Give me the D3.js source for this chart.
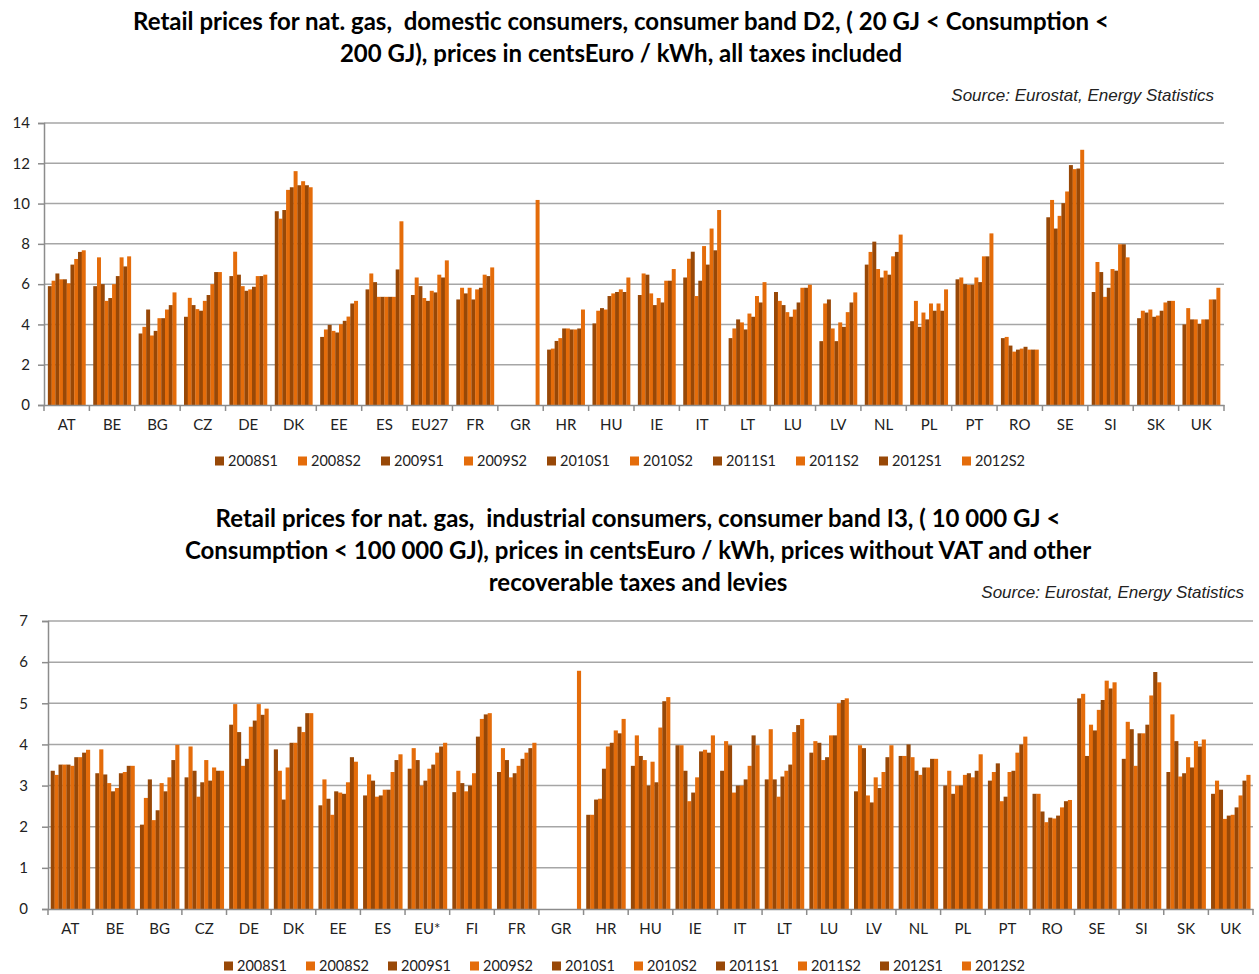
<!DOCTYPE html>
<html lang="en">
<head>
<meta charset="UTF-8">
<title>Retail prices for natural gas</title>
<style>
    body { margin: 0; background: #fff; }
    svg { display: block; }
    .title { font-family: Lato, "Open Sans", sans-serif; font-weight: bold; font-size: 24px; fill: #000; white-space: pre; }
    .source { font-family: "Liberation Sans", Arial, sans-serif; font-style: italic; font-size: 17px; fill: #222; }
    .tick-label { font-family: Lato, sans-serif; font-size: 15px; fill: #222; }
    .legend-label { font-family: Lato, sans-serif; font-size: 14.5px; fill: #222; }
</style>
</head>
<body>
<svg id="chart" width="1259" height="974"></svg>

<script src="https://d3js.org/d3.v7.min.js"></script>
<script>
    // half-year periods (one bar per period in every country group)
    const periods = ["2008S1", "2008S2", "2009S1", "2009S2", "2010S1",
                     "2010S2", "2011S1", "2011S2", "2012S1", "2012S2"];

    // domestic consumers, band D2 (centsEuro / kWh)
    const domesticCountries = ["AT", "BE", "BG", "CZ", "DE", "DK", "EE", "ES", "EU27", "FR", "GR", "HR", "HU",
                               "IE", "IT", "LT", "LU", "LV", "NL", "PL", "PT", "RO", "SE", "SI", "SK", "UK"];
    const domesticPrices = [
        [5.90, 6.17, 6.53, 6.24, 6.24, 6.04, 6.97, 7.25, 7.60, 7.68],
        [5.90, 7.33, 6.00, 5.17, 5.31, 6.00, 6.40, 7.33, 6.88, 7.38],
        [3.55, 3.88, 4.74, 3.45, 3.68, 4.31, 4.31, 4.74, 4.96, 5.59],
        [4.38, 5.32, 4.96, 4.76, 4.68, 5.17, 5.46, 6.00, 6.60, 6.60],
        [6.40, 7.61, 6.47, 5.90, 5.67, 5.74, 5.87, 6.40, 6.40, 6.47],
        [9.62, 9.25, 9.68, 10.68, 10.81, 11.61, 10.91, 11.11, 10.91, 10.81],
        [3.38, 3.75, 3.98, 3.68, 3.60, 4.01, 4.18, 4.39, 5.04, 5.17],
        [5.74, 6.53, 6.10, 5.37, 5.37, 5.37, 5.37, 5.37, 6.73, 9.12],
        [5.46, 6.33, 5.90, 5.31, 5.17, 5.67, 5.59, 6.47, 6.33, 7.18],
        [5.24, 5.82, 5.54, 5.82, 5.24, 5.74, 5.82, 6.47, 6.40, 6.83],
        [null, null, null, null, null, null, null, null, null, 10.18],
        [2.75, 2.80, 3.18, 3.32, 3.80, 3.80, 3.75, 3.75, 3.80, 4.74],
        [4.05, 4.68, 4.81, 4.74, 5.41, 5.54, 5.61, 5.74, 5.61, 6.33],
        [5.46, 6.53, 6.47, 5.54, 4.96, 5.31, 5.09, 6.17, 6.17, 6.75],
        [6.33, 7.26, 7.61, 5.41, 6.17, 7.89, 6.97, 8.76, 7.68, 9.68],
        [3.32, 3.80, 4.25, 4.10, 3.75, 4.54, 4.38, 5.41, 5.09, 6.10],
        [5.61, 5.17, 4.96, 4.61, 4.38, 4.74, 5.09, 5.82, 5.82, 5.97],
        [3.17, 5.04, 5.24, 3.80, 3.17, 4.10, 3.88, 4.61, 5.09, 5.59],
        [6.97, 7.60, 8.11, 6.75, 6.33, 6.67, 6.47, 7.38, 7.60, 8.46],
        [4.16, 5.17, 3.88, 4.59, 4.25, 5.04, 4.68, 5.04, 4.68, 5.74],
        [6.24, 6.33, 6.00, 5.97, 5.97, 6.33, 6.10, 7.38, 7.38, 8.52],
        [3.32, 3.38, 2.95, 2.65, 2.75, 2.80, 2.89, 2.75, 2.75, 2.75],
        [9.32, 10.18, 8.76, 9.39, 10.02, 10.60, 11.91, 11.71, 11.74, 12.67],
        [5.61, 7.10, 6.60, 5.37, 5.82, 6.75, 6.67, 7.98, 7.98, 7.33],
        [4.31, 4.68, 4.59, 4.74, 4.38, 4.44, 4.68, 5.09, 5.17, 5.17],
        [4.00, 4.81, 4.25, 4.25, 4.03, 4.25, 4.25, 5.24, 5.24, 5.82]
    ];
    const domesticTicks = [0, 2, 4, 6, 8, 10, 12, 14];

    // industrial consumers, band I3 (centsEuro / kWh)
    const industrialCountries = ["AT", "BE", "BG", "CZ", "DE", "DK", "EE", "ES", "EU*", "FI", "FR", "GR", "HR", "HU",
                                 "IE", "IT", "LT", "LU", "LV", "NL", "PL", "PT", "RO", "SE", "SI", "SK", "UK"];
    const industrialPrices = [
        [3.36, 3.26, 3.51, 3.51, 3.51, 3.48, 3.69, 3.69, 3.80, 3.87],
        [3.30, 3.88, 3.27, 3.06, 2.86, 2.94, 3.30, 3.33, 3.48, 3.48],
        [2.05, 2.70, 3.15, 2.16, 2.40, 3.06, 2.86, 3.20, 3.62, 3.99],
        [3.20, 3.95, 3.36, 2.73, 3.08, 3.62, 3.12, 3.44, 3.36, 3.36],
        [4.48, 4.98, 4.30, 3.48, 3.65, 4.43, 4.58, 4.98, 4.72, 4.87],
        [3.88, 3.36, 2.66, 3.44, 4.04, 4.04, 4.43, 4.30, 4.76, 4.76],
        [2.52, 3.15, 2.68, 2.29, 2.86, 2.83, 2.80, 3.08, 3.69, 3.58],
        [2.76, 3.27, 3.12, 2.73, 2.76, 2.90, 2.90, 3.33, 3.62, 3.76],
        [3.41, 3.91, 3.62, 3.00, 3.12, 3.41, 3.51, 3.80, 3.95, 4.04],
        [2.84, 3.36, 3.06, 2.86, 3.00, 3.30, 4.19, 4.62, 4.73, 4.76],
        [3.33, 3.91, 3.62, 3.20, 3.30, 3.48, 3.65, 3.80, 3.91, 4.04],
        [null, null, null, null, null, null, null, null, null, 5.79],
        [2.29, 2.29, 2.66, 2.68, 3.41, 3.95, 4.04, 4.34, 4.27, 4.62],
        [3.48, 4.22, 3.72, 3.62, 3.00, 3.58, 3.08, 4.41, 5.05, 5.15],
        [3.98, 3.98, 3.36, 2.62, 2.83, 3.20, 3.83, 3.87, 3.80, 4.22],
        [3.36, 4.08, 3.98, 2.83, 3.00, 3.00, 3.15, 3.48, 4.22, 3.98],
        [3.15, 4.37, 3.15, 2.73, 3.22, 3.36, 3.51, 4.30, 4.47, 4.62],
        [3.80, 4.08, 4.04, 3.62, 3.69, 4.22, 4.22, 5.00, 5.08, 5.12],
        [2.86, 3.98, 3.91, 2.76, 2.59, 3.20, 2.94, 3.33, 3.69, 3.98],
        [3.72, 3.72, 4.00, 3.69, 3.36, 3.26, 3.44, 3.44, 3.65, 3.65],
        [3.00, 3.36, 2.80, 3.00, 3.00, 3.26, 3.30, 3.20, 3.36, 3.76],
        [3.12, 3.33, 3.54, 2.62, 2.73, 3.33, 3.36, 3.80, 4.00, 4.19],
        [2.80, 2.80, 2.37, 2.11, 2.22, 2.20, 2.27, 2.47, 2.62, 2.65],
        [5.12, 5.23, 3.72, 4.48, 4.34, 4.84, 5.08, 5.55, 5.36, 5.51],
        [3.65, 4.55, 4.37, 3.48, 4.27, 4.27, 4.48, 5.19, 5.76, 5.51],
        [3.33, 4.73, 4.08, 3.22, 3.30, 3.69, 3.44, 4.08, 3.95, 4.12],
        [2.80, 3.12, 2.90, 2.19, 2.27, 2.29, 2.47, 2.76, 3.12, 3.26]
    ];
    const industrialTicks = [0, 1, 2, 3, 4, 5, 6, 7];

    const domesticTitle = [
        "Retail prices for nat. gas,  domestic consumers, consumer band D2, ( 20 GJ < Consumption <",
        "200 GJ), prices in centsEuro / kWh, all taxes included"
    ];
    const industrialTitle = [
        "Retail prices for nat. gas,  industrial consumers, consumer band I3, ( 10 000 GJ <",
        "Consumption < 100 000 GJ), prices in centsEuro / kWh, prices without VAT and other",
        "recoverable taxes and levies"
    ];
    const sourceText = "Source: Eurostat, Energy Statistics";

    const darkColor = "#984807";
    const lightColor = "#E46C0A";
    const gridColor = "#a6a6a6";
    const axisColor = "#8c8c8c";

    const svg = d3.select("#chart");

    function drawPanel(opts) {
        const g = svg.append("g");

        // title lines
        g.selectAll("text.title")
            .data(opts.title)
            .enter().append("text")
            .attr("class", "title")
            .attr("x", opts.titleX)
            .attr("y", (d, i) => opts.titleY + i * 32)
            .attr("text-anchor", "middle")
            .text(d => d);

        g.append("text")
            .attr("class", "source")
            .attr("x", opts.sourceX)
            .attr("y", opts.sourceY)
            .attr("text-anchor", "end")
            .text(sourceText);

        const y = d3.scaleLinear()
            .domain([0, d3.max(opts.ticks)])
            .range([opts.bottom, opts.top]);

        const x0 = d3.scaleBand()
            .domain(opts.countries)
            .range([opts.left, opts.right])
            .paddingInner(opts.padding)
            .paddingOuter(opts.padding / 2);

        const x1 = d3.scaleBand()
            .domain(periods)
            .range([0, x0.bandwidth()]);

        // horizontal gridlines
        g.selectAll("line.grid")
            .data(opts.ticks.filter(t => t > 0))
            .enter().append("line")
            .attr("x1", opts.left)
            .attr("x2", opts.right)
            .attr("y1", d => y(d))
            .attr("y2", d => y(d))
            .attr("stroke", gridColor)
            .attr("stroke-width", 1.5);

        // y axis
        const yAxis = g.append("g")
            .attr("transform", `translate(${opts.left},0)`)
            .call(d3.axisLeft(y).tickValues(opts.ticks).tickFormat(d3.format("d")).tickSize(6).tickPadding(opts.yPad));
        yAxis.select(".domain").attr("stroke", axisColor).attr("stroke-width", 1.5);
        yAxis.selectAll(".tick line").attr("stroke", axisColor).attr("stroke-width", 1.5);
        yAxis.selectAll(".tick text").attr("class", "tick-label").attr("font-family", null).attr("font-size", null);

        // bars
        const groups = g.selectAll("g.country")
            .data(opts.countries)
            .enter().append("g")
            .attr("transform", d => `translate(${x0(d)},0)`);

        groups.selectAll("rect")
            .data((c, ci) => periods.map((p, pi) => ({ period: p, value: opts.values[ci][pi], index: pi }))
                .filter(d => d.value !== null))
            .enter().append("rect")
            .attr("x", d => x1(d.period))
            .attr("width", x1.bandwidth() + 0.2)
            .attr("y", d => y(d.value))
            .attr("height", d => y(0) - y(d.value))
            .attr("fill", d => d.index % 2 === 0 ? darkColor : lightColor);

        // x axis line and category separators
        const xAxis = g.append("g")
            .attr("transform", `translate(0,${opts.bottom})`)
            .call(d3.axisBottom(x0).tickSize(0).tickPadding(14));
        xAxis.select(".domain").attr("stroke", axisColor).attr("stroke-width", 1.5);
        xAxis.selectAll(".tick text").attr("class", "tick-label").attr("font-family", null).attr("font-size", null);

        const gap = x0.step() * opts.padding / 2;
        const seps = opts.countries.map(c => x0(c) - gap).concat([opts.right]);
        g.selectAll("line.sep")
            .data(seps)
            .enter().append("line")
            .attr("x1", d => d)
            .attr("x2", d => d)
            .attr("y1", opts.bottom)
            .attr("y2", opts.bottom + 6)
            .attr("stroke", axisColor)
            .attr("stroke-width", 1.5);

        // legend
        const legend = g.append("g")
            .attr("transform", `translate(${opts.legendX},${opts.legendY})`);
        const items = legend.selectAll("g")
            .data(periods)
            .enter().append("g")
            .attr("transform", (d, i) => `translate(${i * opts.legendStep},0)`);
        items.append("rect")
            .attr("x", 0)
            .attr("y", -4.5)
            .attr("width", 9)
            .attr("height", 9)
            .attr("fill", (d, i) => i % 2 === 0 ? darkColor : lightColor);
        items.append("text")
            .attr("class", "legend-label")
            .attr("x", 13)
            .attr("dy", "0.35em")
            .text(d => d);
    }

    drawPanel({
        title: domesticTitle, titleX: 621, titleY: 30,
        sourceX: 1214, sourceY: 101,
        countries: domesticCountries, values: domesticPrices, ticks: domesticTicks,
        left: 44, right: 1224, top: 123, bottom: 405, padding: 0.17, yPad: 8,
        legendX: 215, legendY: 461, legendStep: 83
    });

    drawPanel({
        title: industrialTitle, titleX: 638, titleY: 527,
        sourceX: 1244, sourceY: 598,
        countries: industrialCountries, values: industrialPrices, ticks: industrialTicks,
        left: 48, right: 1253, top: 621, bottom: 909, padding: 0.12, yPad: 14,
        legendX: 224, legendY: 966, legendStep: 82
    });
</script>
</body>
</html>
